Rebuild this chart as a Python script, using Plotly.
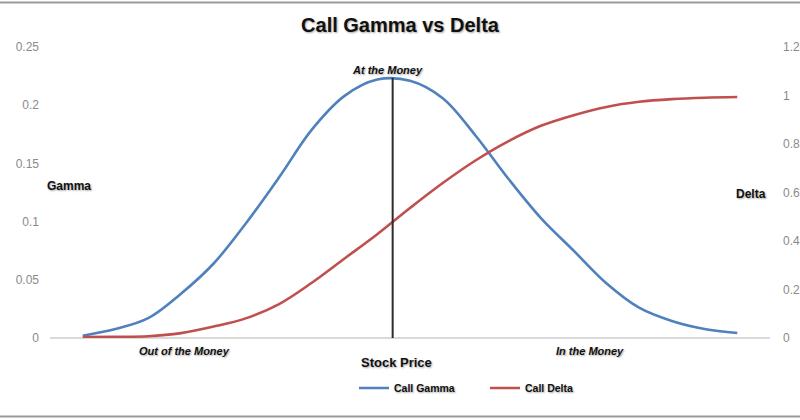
import plotly.graph_objects as go

# ---- data ----
stock_price = list(range(21))  # evenly spaced stock price steps (axis unlabeled)
call_gamma = [0.002, 0.0077, 0.017, 0.038, 0.064, 0.099, 0.138, 0.179, 0.208, 0.222,
              0.221, 0.206, 0.174, 0.137, 0.103, 0.075, 0.047, 0.026, 0.0146, 0.0077, 0.0043]
call_delta = [0.004, 0.005, 0.007, 0.020, 0.047, 0.082, 0.140, 0.228, 0.328, 0.428,
              0.536, 0.639, 0.732, 0.811, 0.875, 0.919, 0.953, 0.974, 0.985, 0.991, 0.994]
atm_price = 9.47
atm_top = 0.2235
gamma_ticks = [0, 0.05, 0.1, 0.15, 0.2, 0.25]
gamma_ticklabels = ["0", "0.05", "0.1", "0.15", "0.2", "0.25"]
delta_ticks = [0, 0.2, 0.4, 0.6, 0.8, 1.0, 1.2]
delta_ticklabels = ["0", "0.2", "0.4", "0.6", "0.8", "1", "1.2"]

BLUE = "#4f81bd"
RED = "#c0504d"
FONT = "Liberation Sans"
SHADOW = "1px 1px 2px rgba(0,0,0,0.35)"

W, H = 800, 420
L, R, T, B = 50, 30, 47, 82
PW, PH = W - L - R, H - T - B


def px(x):
    return (x - L) / PW


def py(y):
    return (H - B - y) / PH


fig = go.Figure()
fig.add_trace(go.Scatter(x=stock_price, y=call_gamma, name="Call Gamma", mode="lines",
                         line=dict(color=BLUE, width=2.6, shape="spline", smoothing=1.0),
                         yaxis="y"))
fig.add_trace(go.Scatter(x=stock_price, y=call_delta, name="Call Delta", mode="lines",
                         line=dict(color=RED, width=2.6, shape="spline", smoothing=1.0),
                         yaxis="y2"))

shapes = [
    dict(type="line", xref="x", yref="y", x0=atm_price, x1=atm_price, y0=-0.0035, y1=atm_top,
         line=dict(color="#2b2b2b", width=2)),
    dict(type="line", xref="paper", yref="paper", x0=px(0), x1=px(W), y0=py(2.5), y1=py(2.5),
         line=dict(color="#9a9a9a", width=2)),
    dict(type="line", xref="paper", yref="paper", x0=px(0), x1=px(W), y0=py(416.5), y1=py(416.5),
         line=dict(color="#9a9a9a", width=2)),
]


def ann(text, x, y, size=11, italic=False, shadow=True):
    return dict(text=text, xref="paper", yref="paper", x=px(x), y=py(y), showarrow=False,
                xanchor="center", yanchor="middle",
                font=dict(family=FONT, size=size, color="#111111", weight="bold",
                          style="italic" if italic else "normal",
                          shadow=SHADOW if shadow else "none"))


annotations = [
    ann("At the Money", 387, 70, size=11, italic=True),
    ann("Out of the Money", 184, 351, size=11, italic=True),
    ann("In the Money", 590, 351, size=11, italic=True),
    ann("Stock Price", 396, 362, size=13),
    ann("Gamma", 69, 186, size=12),
    ann("Delta", 751, 194, size=12),
]

fig.update_layout(
    width=W, height=H,
    margin=dict(l=L, r=R, t=T, b=B, autoexpand=False),
    paper_bgcolor="white", plot_bgcolor="white",
    title=dict(text="Call Gamma vs Delta", x=px(400), xref="paper", xanchor="center",
               y=1 - 25 / H, yref="container", yanchor="middle",
               font=dict(family=FONT, size=20, color="#111111", weight="bold", shadow=SHADOW)),
    xaxis=dict(range=[-1.0, 21.0], showgrid=False, zeroline=False, showticklabels=False,
               ticks="", showline=False, fixedrange=True, automargin=False),
    yaxis=dict(range=[0, 0.25], tickvals=gamma_ticks, ticktext=gamma_ticklabels,
               showgrid=False, zeroline=True, zerolinecolor="#d9d9d9", zerolinewidth=1.5,
               showline=False, ticks="", ticklabelstandoff=10, automargin=False,
               tickfont=dict(family=FONT, size=12, color="#8a8a8a")),
    yaxis2=dict(range=[0, 1.2], tickvals=delta_ticks, ticktext=delta_ticklabels,
                overlaying="y", side="right", showgrid=False, zeroline=False, showline=False,
                ticks="", ticklabelstandoff=12, automargin=False,
                tickfont=dict(family=FONT, size=12, color="#8a8a8a")),
    showlegend=True,
    legend=dict(orientation="h", x=px(354), y=py(388), xanchor="left", yanchor="middle",
                font=dict(family=FONT, size=10.5, color="#111111", weight="bold", shadow=SHADOW),
                entrywidth=86, entrywidthmode="pixels", bgcolor="rgba(0,0,0,0)"),
    shapes=shapes,
    annotations=annotations,
)

fig.write_html("out.html", config={"displayModeBar": False},
               post_script="document.body.style.margin='0';document.body.style.overflow='hidden';")
